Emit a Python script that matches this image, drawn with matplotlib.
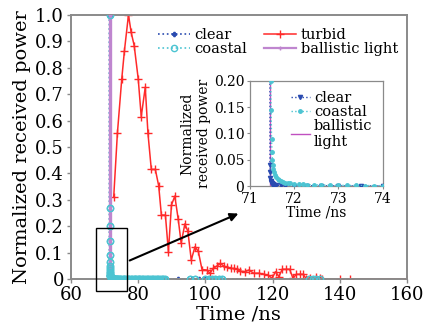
import numpy as np
import matplotlib
matplotlib.use("Agg")
import matplotlib.pyplot as plt

plt.rcParams['font.family'] = 'DejaVu Serif'
plt.rcParams['mathtext.fontset'] = 'dejavuserif'

# turbid water
turbid_t = [72.7, 73.8, 75.1, 75.9, 77.1, 77.9, 78.8, 80.0, 80.9, 82.1, 82.9, 83.9, 85.1,
            86.1, 86.9, 88.1, 89.0, 89.9, 90.9, 91.9, 92.8, 93.9, 94.8, 95.8, 96.9, 97.9,
            99.0, 100.4, 101.4, 102.3, 103.4, 104.5, 105.5, 106.5, 107.5, 108.5, 109.4,
            110.3, 111.9, 112.9, 114.4, 115.9, 117.4, 118.6, 119.9, 120.9, 121.9, 122.9,
            123.9, 125.1, 126.1, 127.1, 128.1, 129.1, 130.1, 131.3, 133.1, 134.1, 134.8,
            140.0, 143.0, 160.0]
turbid_p = [0.31, 0.552, 0.758, 0.865, 1.0, 0.934, 0.884, 0.758, 0.615, 0.726, 0.552, 0.415, 0.415,
            0.353, 0.242, 0.242, 0.103, 0.28, 0.314, 0.228, 0.136, 0.209, 0.18, 0.072, 0.122, 0.105,
            0.036, 0.034, 0.022, 0.04, 0.049, 0.059, 0.049, 0.044, 0.04, 0.04, 0.037,
            0.03, 0.028, 0.034, 0.022, 0.022, 0.018, 0.015, 0.003, 0.028, 0.009, 0.037,
            0.037, 0.037, 0.003, 0.018, 0.018, 0.018, 0.0, 0.005, 0.009, 0.005, 0.0,
            0.0, 0.0, 0.0]

# coastal water
coastal_t = [71.45, 71.46, 71.47, 71.48, 71.49, 71.5, 71.51, 71.52, 71.53, 71.55, 71.57,
             71.6, 71.63, 71.66, 71.7, 71.75, 71.8, 71.85, 71.9, 72.0, 72.1, 72.2, 72.3,
             72.45, 72.6, 72.8, 73.0, 73.2, 73.4, 73.6, 73.8, 74.0, 74.3, 74.6, 75.0, 75.4,
             75.8, 76.2, 76.6, 77.0, 77.4, 77.8, 78.2, 78.6, 79.0, 79.4, 79.8, 80.2, 80.6,
             81.0, 81.5, 82.0, 82.5, 83.0, 83.5, 84.0, 84.5, 85.0, 85.5, 86.0, 86.5, 87.0,
             87.5, 88.0, 95.5, 97.0, 100.0, 101.0, 102.0, 103.0, 104.0, 105.0,
             131.0, 132.0, 133.0, 134.0]
coastal_p = [1.0, 0.27, 0.2, 0.145, 0.09, 0.065, 0.05, 0.04, 0.033, 0.026, 0.021,
             0.017, 0.014, 0.012, 0.01, 0.008, 0.0065, 0.0055, 0.0048, 0.004, 0.0034, 0.003, 0.0026,
             0.0022, 0.0019, 0.0016, 0.0014, 0.0012, 0.001, 0.0009, 0.0008, 0.0007, 0.0006, 0.0006,
             0.0005, 0.0005, 0.0004, 0.0004, 0.0004, 0.0003, 0.0003, 0.0003, 0.0003, 0.0002, 0.0002,
             0.0002, 0.0002, 0.0002, 0.0002, 0.0002, 0.0001, 0.0001, 0.0001, 0.0001, 0.0001, 0.0001,
             0.0001, 0.0001, 0.0001, 0.0001, 0.0001, 0.0001, 0.0001, 0.0001, 0.0001, 0.0001,
             0.0001, 0.0001, 0.0001, 0.0001, 0.0001, 0.0001, 0.0, 0.0, 0.0, 0.0]

# clear water
clear_t = [71.45, 71.455, 71.46, 71.465, 71.47, 71.48, 71.49, 71.5, 71.52, 71.55, 71.6,
           71.7, 71.8, 72.0, 72.3, 72.6, 73.0, 73.5, 74.0, 76.0, 80.0, 84.0, 88.0,
           92.0, 96.0, 98.0, 100.0]
clear_p = [1.0, 0.04, 0.026, 0.016, 0.01, 0.007, 0.005, 0.004, 0.003, 0.002, 0.0015,
           0.001, 0.0008, 0.0006, 0.0005, 0.0004, 0.0003, 0.0002, 0.0002, 0.0001, 0.0001, 0.0001, 0.0,
           0.0, 0.0, 0.0, 0.0]

# ballistic light
ballistic_t = [71.45, 71.45]
ballistic_p = [0.0, 1.0]

c_clear = '#2a4bb0'
c_coastal = '#4cc4d2'
c_turbid = '#ff2a2a'
c_ball = '#bf86cf'
c_spine = '#8a8a8a'

fig = plt.figure(figsize=(4.36, 3.31), dpi=100)
ax = fig.add_axes([0.163, 0.157, 0.770, 0.798])

ax.plot(clear_t, clear_p, ':', color=c_clear, marker='P', markersize=3, lw=1.2,
        label='clear', zorder=2)
ax.plot(coastal_t, coastal_p, ':', color=c_coastal, marker='o', markersize=4.5,
        markerfacecolor='none', lw=1.2, label='coastal', zorder=2)
# coastal markers again, above the ballistic line
ax.plot(coastal_t, coastal_p, 'o', color=c_coastal, markersize=4.5,
        markerfacecolor='none', zorder=4)
ax.plot(turbid_t, turbid_p, '-', color=c_turbid, marker='+', markersize=6, lw=1.1,
        label='turbid', zorder=2.5)
ax.plot(ballistic_t, ballistic_p, '-', color=c_ball, marker='+', markersize=3, lw=2.4,
        label='ballistic light', zorder=3)

ax.set_xlim(60, 160)
ax.set_ylim(0, 1.0)
ax.set_xticks([60, 80, 100, 120, 140, 160])
yt = [0, 0.1, 0.2, 0.3, 0.4, 0.5, 0.6, 0.7, 0.8, 0.9, 1.0]
ax.set_yticks(yt)
ax.set_yticklabels(['0'] + ['%.1f' % v for v in yt[1:]])
ax.tick_params(labelsize=13, color=c_spine, length=3, width=1, pad=2)
for s in ax.spines.values():
    s.set_color(c_spine)
    s.set_linewidth(1.4)
ax.set_xlabel('Time /ns', fontsize=14, labelpad=1)
ax.set_ylabel('Normalized received power', fontsize=14, labelpad=3)

leg = ax.legend(ncol=2, loc='upper right', bbox_to_anchor=(1.0, 0.985), frameon=False,
                fontsize=10.5, handlelength=2.2, handletextpad=0.3, columnspacing=1.2,
                labelspacing=0.05, borderaxespad=0.2)
leg.get_lines()[3].set_linewidth(1.6)

# zoom box and arrow
ax.add_patch(plt.Rectangle((67.5, -0.045), 9.2, 0.237, fill=False, ec='black', lw=1.0,
                           clip_on=False, zorder=6))
ax.annotate('', xy=(110.6, 0.252), xytext=(76.7, 0.066),
            arrowprops=dict(arrowstyle='-|>', color='black', lw=1.5, mutation_scale=12),
            zorder=6)

# inset
ins = fig.add_axes([0.573, 0.438, 0.305, 0.318])
ins.plot(clear_t, clear_p, ':', color=c_clear, marker='v', markersize=3, lw=1.0,
         label='clear', zorder=3)
ins.plot(coastal_t, coastal_p, ':', color=c_coastal, marker='o', markersize=2.5, lw=1.0,
         label='coastal', zorder=4)
ins.plot(ballistic_t, ballistic_p, '-', color='#c050c0', lw=1.0, label='ballistic\nlight',
         zorder=2)
ins.set_xlim(71, 74)
ins.set_ylim(0, 0.2)
ins.set_xticks([71, 72, 73, 74])
ins.set_yticks([0, 0.05, 0.10, 0.15, 0.20])
ins.set_yticklabels(['0', '0.05', '0.10', '0.15', '0.20'])
ins.tick_params(labelsize=10, color=c_spine, length=2, width=0.8, pad=2)
for s in ins.spines.values():
    s.set_color(c_spine)
    s.set_linewidth(0.9)
ins.set_xlabel('Time /ns', fontsize=10, labelpad=0)
ins.set_ylabel('Normalized\nreceived power', fontsize=10, labelpad=2)
ins.legend(loc='upper right', frameon=False, fontsize=10.5, handlelength=1.3,
           handletextpad=0.3, labelspacing=0.0, borderaxespad=0.3)

fig.savefig('out.png', dpi=100)
